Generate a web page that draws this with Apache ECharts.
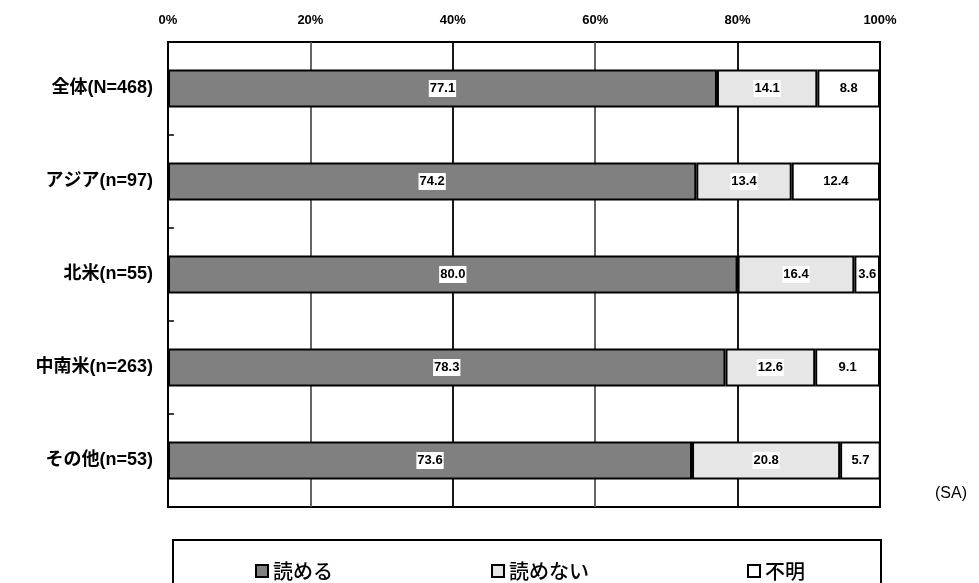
<!DOCTYPE html>
<html>
<head>
<meta charset="utf-8">
<script src="https://cdn.jsdelivr.net/npm/echarts@6/dist/echarts.min.js"></script>
<style>
  html, body { margin: 0; padding: 0; background: #fff; }
  #chart { width: 979px; height: 583px; }
</style>
</head>
<body>
<div id="chart"></div>
<script>
const categories = ['全体(N=468)', 'アジア(n=97)', '北米(n=55)', '中南米(n=263)', 'その他(n=53)'];
const seriesNames = ['読める', '読めない', '不明'];
const canRead = [77.1, 74.2, 80.0, 78.3, 73.6];
const cannotRead = [14.1, 13.4, 16.4, 12.6, 20.8];
const unknown = [8.8, 12.4, 3.6, 9.1, 5.7];
const colors = ['#808080', '#e6e6e6', '#ffffff'];

const chart = echarts.init(document.getElementById('chart'));

const labelStyle = {
  show: true,
  position: 'inside',
  color: '#000',
  fontWeight: 'bold',
  fontSize: 13,
  fontFamily: 'Liberation Sans',
  backgroundColor: '#fff',
  padding: [3, 1, 1, 1],
  formatter: p => p.value.toFixed(1)
};

function makeSeries(name, data, color) {
  return {
    name: name,
    type: 'bar',
    stack: 'total',
    barWidth: 38,
    data: data,
    itemStyle: { color: color, borderColor: '#000', borderWidth: 2 },
    label: labelStyle
  };
}

const option = {
  animation: false,
  grid: {
    left: 168, top: 42, width: 712, height: 465,
    show: true, borderColor: '#000', borderWidth: 2, backgroundColor: '#fff'
  },
  xAxis: {
    type: 'value',
    position: 'top',
    min: 0, max: 100, interval: 20,
    axisLine: { show: false },
    axisTick: { show: false },
    axisLabel: {
      formatter: '{value}%',
      color: '#000', fontWeight: 'bold', fontSize: 13,
      fontFamily: 'Liberation Sans', margin: 15
    },
    splitLine: { show: true, lineStyle: { color: ['#000', '#555', '#000', '#555', '#000', '#000'], width: 1.8 } }
  },
  yAxis: {
    type: 'category',
    inverse: true,
    data: categories,
    axisLine: { show: true, lineStyle: { color: '#000', width: 2 } },
    axisTick: { show: true, inside: true, length: 6, lineStyle: { color: '#000', width: 1.5 } },
    axisLabel: {
      color: '#000', fontWeight: 'bold', fontSize: 18,
      fontFamily: 'Liberation Sans, Noto Sans CJK JP', margin: 15,
      padding: [5, 0, 0, 0]
    }
  },
  legend: {
    data: seriesNames,
    left: 250, top: 556,
    itemGap: 158,
    icon: 'rect',
    itemWidth: 12, itemHeight: 12,
    textStyle: { color: '#000', fontSize: 20, fontFamily: 'Noto Sans CJK JP', fontWeight: 500 },
    itemStyle: { borderColor: '#000', borderWidth: 2 }
  },
  graphic: [
    {
      type: 'rect', left: 172, top: 539, z: -1,
      shape: { width: 708, height: 70 },
      style: { fill: '#fff', stroke: '#000', lineWidth: 2 }
    },
    {
      type: 'text', left: 935, top: 486,
      style: { text: '(SA)', fill: '#000', fontSize: 16, fontFamily: 'Liberation Sans' }
    }
  ],
  series: [
    makeSeries(seriesNames[0], canRead, colors[0]),
    makeSeries(seriesNames[1], cannotRead, colors[1]),
    makeSeries(seriesNames[2], unknown, colors[2])
  ]
};

chart.setOption(option);
</script>
</body>
</html>
